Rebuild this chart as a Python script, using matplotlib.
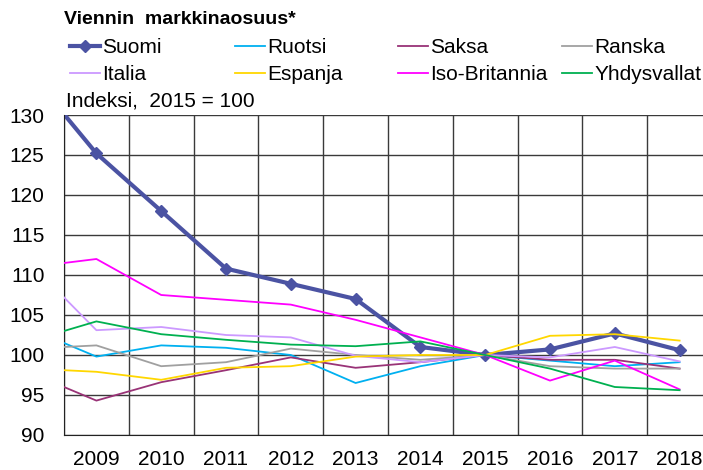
import numpy as np
import matplotlib.pyplot as plt
from matplotlib.ticker import FixedLocator

plt.rcParams['font.family'] = ['Liberation Sans', 'DejaVu Sans']

# 2008 is only partly visible at the left edge (the chart starts mid-way)
years = [2008, 2009, 2010, 2011, 2012, 2013, 2014, 2015, 2016, 2017, 2018]

suomi = [135.0, 125.2, 118.0, 110.8, 108.9, 107.0, 101.0, 100.0, 100.7, 102.7, 100.6]
ruotsi = [103.2, 99.8, 101.2, 100.9, 100.0, 96.5, 98.6, 100.0, 99.3, 98.6, 99.1]
saksa = [97.7, 94.3, 96.6, 98.1, 99.7, 98.4, 99.1, 100.0, 99.4, 99.4, 98.3]
ranska = [100.8, 101.2, 98.6, 99.1, 100.8, 100.0, 99.4, 100.0, 98.6, 98.3, 98.3]
italia = [111.3, 103.1, 103.5, 102.5, 102.2, 99.9, 99.1, 100.0, 99.7, 101.0, 99.2]
espanja = [98.3, 97.9, 96.9, 98.4, 98.6, 99.8, 100.0, 100.0, 102.4, 102.6, 101.8]
iso_britannia = [111.0, 112.0, 107.5, 106.9, 106.3, 104.4, 102.2, 100.0, 96.8, 99.3, 95.7]
yhdysvallat = [101.8, 104.2, 102.6, 101.9, 101.3, 101.1, 101.7, 100.0, 98.3, 96.0, 95.6]

names = ["Suomi", "Ruotsi", "Saksa", "Ranska",
         "Italia", "Espanja", "Iso-Britannia", "Yhdysvallat"]
series = [suomi, ruotsi, saksa, ranska, italia, espanja, iso_britannia, yhdysvallat]
colors = ["#4B53A3", "#00B0F0", "#993377", "#A0A0A0",
          "#CC99FF", "#FFD700", "#FF00FF", "#00B050"]

fig = plt.figure(figsize=(7.03, 4.70), dpi=100)
ax = fig.add_axes([64 / 703, 35 / 470, 648 / 703, 320 / 470])

handles = []
for i, (name, vals, col) in enumerate(zip(names, series, colors)):
    if i == 0:
        h, = ax.plot(years, vals, color=col, lw=3.0, marker='D', markersize=6.5,
                     label=name, zorder=2)
    else:
        h, = ax.plot(years, vals, color=col, lw=1.3, label=name, zorder=3)
    handles.append(h)

ax.set_xlim(2008.5, 2018.5)
ax.set_ylim(90, 130)
ax.set_yticks(np.arange(90, 131, 5))
ax.set_xticks(years[1:])
ax.xaxis.set_minor_locator(FixedLocator(np.arange(2008.5, 2019, 1)))
ax.tick_params(axis='both', which='both', length=0, labelsize=15)
ax.tick_params(axis='y', pad=14)
ax.tick_params(axis='x', pad=11)
ax.grid(axis='y', which='major', color='#3a3a3a', lw=1.0)
ax.grid(axis='x', which='minor', color='#3a3a3a', lw=1.0)
ax.set_axisbelow(True)
for s in ['top', 'right']:
    ax.spines[s].set_visible(False)
ax.spines['left'].set_color('#222222')
ax.spines['bottom'].set_color('#222222')

fig.text(64 / 703, 1 - 20 / 470, "Viennin  markkinaosuus*", fontsize=14,
         fontweight='bold', ha='left', va='center')
fig.text(66 / 703, 1 - 101 / 470, "Indeksi,  2015 = 100", fontsize=15,
         ha='left', va='center')

col_x = [70, 235, 398, 562]
for j in range(4):
    fig.legend(handles=[handles[j], handles[j + 4]], loc='upper left',
               bbox_to_anchor=(col_x[j] / 703, 1 - 38 / 470),
               frameon=False, fontsize=15, borderpad=0, borderaxespad=0,
               handlelength=1.45, handletextpad=0.1, labelspacing=0.38)

fig.savefig("out.png", dpi=100)
